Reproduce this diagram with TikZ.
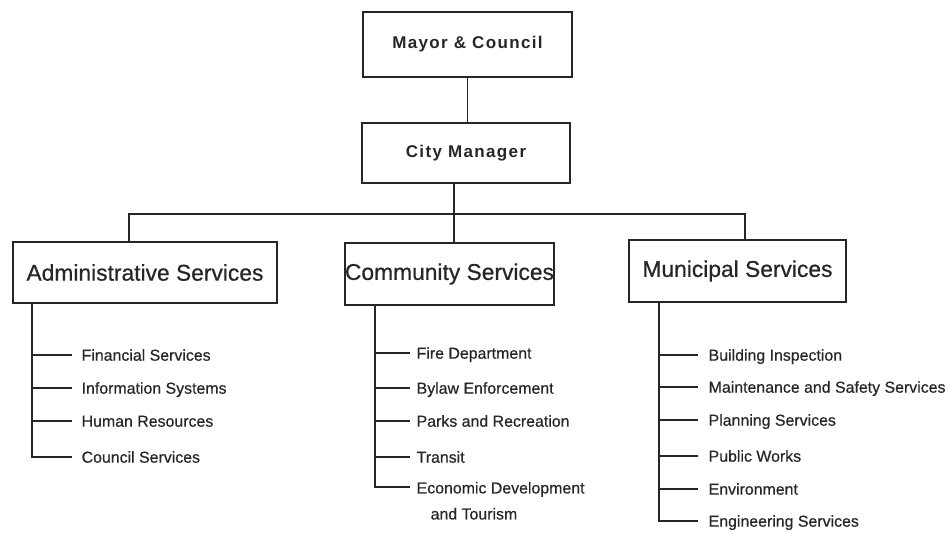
\documentclass[tikz,border=0pt]{standalone}
\usepackage{fontspec}
\setmainfont{Liberation Sans}
\newfontfamily\widefont[LetterSpace=8]{Liberation Sans}
\newfontfamily\deptfont[FakeBold=0.6]{Liberation Sans}
\newfontfamily\itemfont[FakeBold=0.5]{Liberation Sans}
\usepackage{tikz}
\usetikzlibrary{positioning, calc}
\definecolor{ink}{HTML}{262626}

\begin{document}
\begin{tikzpicture}[x=1pt, y=-1pt, line width=1.3pt, color=ink,
    topbox/.style={draw, inner sep=0pt,
                   font=\widefont\bfseries\fontsize{17}{20}\selectfont},
    deptbox/.style={draw, inner sep=0pt, font=\deptfont\fontsize{22.8}{27}\selectfont},
    item/.style={inner sep=0pt, font=\itemfont\fontsize{15.9}{19}\selectfont},
    leaf/.style={item, anchor=west, text height=11.4pt, text depth=0pt}]
        \useasboundingbox (0,0) rectangle (950,533);

        \node[topbox, minimum width=209pt, minimum height=65pt] (mayor) at (467.5,44.5) {Mayor \& Council};
        \node[topbox, minimum width=208pt, minimum height=60pt] (manager) at (466,153) {City Manager};

        \node[deptbox, minimum width=264pt, minimum height=61pt] (admin) at (145,272.5) {Administrative Services};
        \node[deptbox, minimum width=207pt, minimum height=62pt] (community) at (449.5,274) {Community Services};
        \node[deptbox, minimum width=217pt, minimum height=62pt] (municipal) at (737.5,271) {Municipal Services};

        \coordinate (busL) at (129,214);
        \coordinate (busM) at (454,214);
        \coordinate (busR) at (745,214);

        \draw (mayor.south) -- (mayor.south |- manager.north);
        \draw (manager.south -| busM) -- (busM |- community.north);
        \draw (busL |- admin.north) -- (busL) -- (busR) -- (busR |- municipal.north);

        % administrative
        \node[leaf] (a1) at (81,355) {Financial Services};
        \node[leaf] (a2) at (81,388) {Information Systems};
        \node[leaf] (a3) at (81,421) {Human Resources};
        \node[leaf] (a4) at (81,457) {Council Services};
        \coordinate (aspine) at (32,303);
        \draw (aspine) |- ([xshift=-9pt]a4.west);
        \foreach \i in {1,2,3}
            \draw (aspine |- a\i.west) -- ([xshift=-9pt]a\i.west);

        % community
        \node[leaf] (c1) at (416,353) {Fire Department};
        \node[leaf] (c2) at (416,388) {Bylaw Enforcement};
        \node[leaf] (c3) at (416,421) {Parks and Recreation};
        \node[leaf] (c4) at (416,457) {Transit};
        \node[item, anchor=north west, align=left] (c5) at (416,481.3)
            {Economic Development\\[7pt]\hspace*{14pt}and Tourism};
        \coordinate (cspine) at (375,305);
        \draw (cspine) |- ([xshift=-6pt, yshift=-5.7pt]c5.north west);
        \foreach \i in {1,...,4}
            \draw (cspine |- c\i.west) -- ([xshift=-6pt]c\i.west);

        % municipal
        \node[leaf] (m1) at (708,355) {Building Inspection};
        \node[leaf] (m2) at (708,387) {Maintenance and Safety Services};
        \node[leaf] (m3) at (708,420) {Planning Services};
        \node[leaf] (m4) at (708,456) {Public Works};
        \node[leaf] (m5) at (708,489) {Environment};
        \node[leaf] (m6) at (708,521) {Engineering Services};
        \coordinate (mspine) at (659,302);
        \draw (mspine) |- ([xshift=-10pt]m6.west);
        \foreach \i in {1,...,5}
            \draw (mspine |- m\i.west) -- ([xshift=-10pt]m\i.west);
    \end{tikzpicture}
\end{document}
